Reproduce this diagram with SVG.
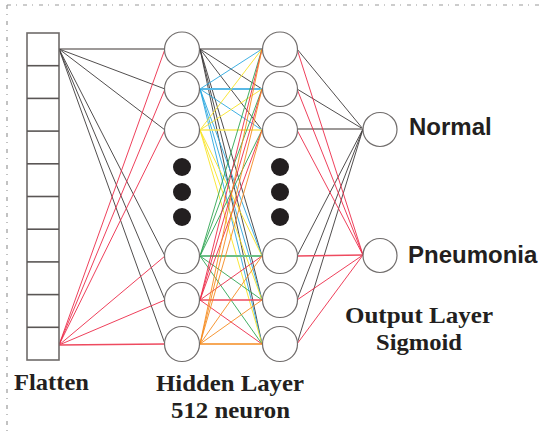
<svg xmlns="http://www.w3.org/2000/svg" width="543" height="435" viewBox="0 0 543 435">
<style>
.k{stroke:#3d3a3a;stroke-width:0.9;fill:none}
.kh{stroke:#9d9998;stroke-width:2;fill:none}
.r{stroke:#ec2a48;stroke-width:0.9;fill:none}
.rh{stroke:#ee4a5f;stroke-width:1.6;fill:none}
.b{stroke:#2aa7df;stroke-width:0.9;fill:none}
.bh{stroke:#5ab9e6;stroke-width:2;fill:none}
.y{stroke:#f8e325;stroke-width:0.9;fill:none}
.yh{stroke:#f8e65a;stroke-width:1.6;fill:none}
.g{stroke:#2fa552;stroke-width:0.9;fill:none}
.gh{stroke:#6cbf86;stroke-width:2;fill:none}
.o{stroke:#f58b1f;stroke-width:0.9;fill:none}
.oh{stroke:#f58b1f;stroke-width:1.6;fill:none}
.n{fill:#fff;stroke:#716d6c;stroke-width:1.2}
.dot{fill:#231f20}
.sans{font-family:"Liberation Sans",Arial,sans-serif;font-weight:bold;font-size:24px;fill:#231f20}
.serif{font-family:"Liberation Serif","Times New Roman",serif;font-weight:bold;font-size:23px;fill:#231f20}
.border{stroke:#9a9a9a;stroke-width:1.2;stroke-dasharray:4 5 1 6;fill:none}
</style>
<g id="border">
<line class="border" x1="7" y1="5" x2="543" y2="5"/>
<line class="border" x1="7" y1="5" x2="7" y2="435"/>
</g>
<g id="connectors">
<!-- flatten top to hidden1 -->
<line class="kh" x1="59" y1="49" x2="165" y2="49"/>
<line class="k" x1="59" y1="49" x2="165" y2="89"/>
<line class="k" x1="59" y1="49" x2="165" y2="130"/>
<line class="k" x1="59" y1="49" x2="165" y2="256"/>
<line class="k" x1="59" y1="49" x2="165" y2="300"/>
<line class="k" x1="59" y1="49" x2="165" y2="344"/>
<!-- flatten bottom to hidden1 -->
<line class="r" x1="59" y1="345" x2="165" y2="49"/>
<line class="r" x1="59" y1="345" x2="165" y2="89"/>
<line class="r" x1="59" y1="345" x2="165" y2="130"/>
<line class="r" x1="59" y1="345" x2="165" y2="256"/>
<line class="r" x1="59" y1="345" x2="165" y2="300"/>
<line class="rh" x1="59" y1="345" x2="165" y2="344"/>
<!-- hidden1 c1 (gray) -->
<line class="kh" x1="200" y1="49" x2="262" y2="49"/>
<line class="k" x1="200" y1="49" x2="262" y2="89"/>
<line class="k" x1="200" y1="49" x2="262" y2="130"/>
<line class="k" x1="200" y1="49" x2="262" y2="256"/>
<line class="k" x1="200" y1="49" x2="262" y2="300"/>
<line class="k" x1="200" y1="49" x2="262" y2="344"/>
<!-- c2 blue -->
<line class="b" x1="200" y1="89" x2="262" y2="49"/>
<line class="bh" x1="200" y1="89" x2="262" y2="89"/>
<line class="b" x1="200" y1="89" x2="262" y2="130"/>
<line class="b" x1="200" y1="89" x2="262" y2="256"/>
<line class="b" x1="200" y1="89" x2="262" y2="300"/>
<line class="b" x1="200" y1="89" x2="262" y2="344"/>
<!-- c3 yellow -->
<line class="y" x1="200" y1="130" x2="262" y2="49"/>
<line class="y" x1="200" y1="130" x2="262" y2="89"/>
<line class="yh" x1="200" y1="130" x2="262" y2="130"/>
<line class="y" x1="200" y1="130" x2="262" y2="256"/>
<line class="y" x1="200" y1="130" x2="262" y2="300"/>
<line class="y" x1="200" y1="130" x2="262" y2="344"/>
<!-- c4 green -->
<line class="g" x1="200" y1="256" x2="262" y2="49"/>
<line class="g" x1="200" y1="256" x2="262" y2="89"/>
<line class="g" x1="200" y1="256" x2="262" y2="130"/>
<line class="gh" x1="200" y1="256" x2="262" y2="256"/>
<line class="g" x1="200" y1="256" x2="262" y2="300"/>
<line class="g" x1="200" y1="256" x2="262" y2="344"/>
<!-- c5 red -->
<line class="r" x1="200" y1="300" x2="262" y2="49"/>
<line class="r" x1="200" y1="300" x2="262" y2="89"/>
<line class="r" x1="200" y1="300" x2="262" y2="130"/>
<line class="r" x1="200" y1="300" x2="262" y2="256"/>
<line class="rh" x1="200" y1="300" x2="262" y2="300"/>
<line class="r" x1="200" y1="300" x2="262" y2="344"/>
<!-- c6 orange -->
<line class="o" x1="200" y1="344" x2="262" y2="49"/>
<line class="o" x1="200" y1="344" x2="262" y2="89"/>
<line class="o" x1="200" y1="344" x2="262" y2="130"/>
<line class="o" x1="200" y1="344" x2="262" y2="256"/>
<line class="o" x1="200" y1="344" x2="262" y2="300"/>
<line class="oh" x1="200" y1="344" x2="262" y2="344"/>
<!-- hidden2 to output -->
<line class="k" x1="297" y1="49" x2="363" y2="129"/>
<line class="k" x1="297" y1="89" x2="363" y2="129"/>
<line class="kh" x1="297" y1="129" x2="363" y2="129"/>
<line class="k" x1="297" y1="256" x2="363" y2="129"/>
<line class="k" x1="297" y1="300" x2="363" y2="129"/>
<line class="k" x1="297" y1="344" x2="363" y2="129"/>
<line class="r" x1="297" y1="49" x2="363" y2="255"/>
<line class="r" x1="297" y1="89" x2="363" y2="255"/>
<line class="r" x1="297" y1="130" x2="363" y2="255"/>
<line class="rh" x1="297" y1="256" x2="363" y2="255"/>
<line class="r" x1="297" y1="300" x2="363" y2="255"/>
<line class="r" x1="297" y1="344" x2="363" y2="255"/>
</g>
<g id="flatten">
<rect x="27" y="33" width="32" height="327" fill="#fff" stroke="#6f6b6a" stroke-width="1.6"/>
<g stroke="#5a5655" stroke-width="1.6">
<line x1="27" y1="65.7" x2="59" y2="65.7"/>
<line x1="27" y1="98.4" x2="59" y2="98.4"/>
<line x1="27" y1="131.1" x2="59" y2="131.1"/>
<line x1="27" y1="163.8" x2="59" y2="163.8"/>
<line x1="27" y1="196.5" x2="59" y2="196.5"/>
<line x1="27" y1="229.2" x2="59" y2="229.2"/>
<line x1="27" y1="261.9" x2="59" y2="261.9"/>
<line x1="27" y1="294.6" x2="59" y2="294.6"/>
<line x1="27" y1="327.3" x2="59" y2="327.3"/>
</g>
<text class="serif" x="14" y="390" textLength="75" lengthAdjust="spacingAndGlyphs">Flatten</text>
</g>
<g id="hidden1">
<circle class="n" cx="182" cy="49.5" r="17.5"/>
<circle class="n" cx="182" cy="89" r="17.5"/>
<circle class="n" cx="182" cy="130" r="17.5"/>
<circle class="n" cx="182" cy="256" r="17.5"/>
<circle class="n" cx="182" cy="300" r="17.5"/>
<circle class="n" cx="182" cy="344" r="17.5"/>
<circle class="dot" cx="182" cy="167" r="9"/>
<circle class="dot" cx="182" cy="192" r="9"/>
<circle class="dot" cx="182" cy="217" r="9"/>
</g>
<g id="hidden2">
<circle class="n" cx="280" cy="49.5" r="17.5"/>
<circle class="n" cx="280" cy="89" r="17.5"/>
<circle class="n" cx="280" cy="130" r="17.5"/>
<circle class="n" cx="280" cy="256" r="17.5"/>
<circle class="n" cx="280" cy="300" r="17.5"/>
<circle class="n" cx="280" cy="344" r="17.5"/>
<circle class="dot" cx="280" cy="167" r="9"/>
<circle class="dot" cx="280" cy="192" r="9"/>
<circle class="dot" cx="280" cy="217" r="9"/>
</g>
<g id="hidden-label">
<text class="serif" x="156" y="391" textLength="148" lengthAdjust="spacingAndGlyphs">Hidden Layer</text>
<text class="serif" x="171" y="418" textLength="119" lengthAdjust="spacingAndGlyphs">512 neuron</text>
</g>
<g id="normal">
<circle class="n" cx="380" cy="129.5" r="17"/>
<text class="sans" x="409" y="135">Normal</text>
</g>
<g id="pneumonia">
<circle class="n" cx="380" cy="255.5" r="17"/>
<text class="sans" x="408" y="263">Pneumonia</text>
</g>
<g id="output-label">
<text class="serif" x="345" y="323" textLength="148" lengthAdjust="spacingAndGlyphs">Output Layer</text>
<text class="serif" x="376" y="350" textLength="86" lengthAdjust="spacingAndGlyphs">Sigmoid</text>
</g>
</svg>
